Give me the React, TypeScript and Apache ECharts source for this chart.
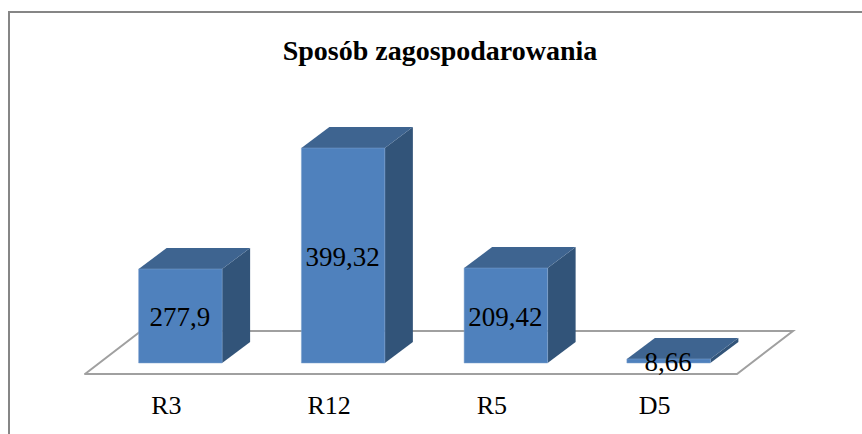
import React, { useEffect, useRef } from "react";
import * as echarts from "echarts";

const categories = ["R3", "R12", "R5", "D5"];
// Heights as drawn in the picture (the printed labels do not follow them).
const plottedValues = [174.6, 399.32, 176.4, 7.5];
const valueLabels = ["277,9", "399,32", "209,42", "8,66"];
const titleText = "Sposób zagospodarowania";

const FONT = '"Liberation Serif", "Times New Roman", serif';
const FRONT = "#4F81BD";
const TOP = "#3E6490";
const SIDE = "#325479";
const FLOOR = "#A0A0A0";
const DEPTH_X = 28;
const DEPTH_Y = 21;
const OFFSET_X = 14;
const OFFSET_Y = 11;

function renderBar(params: any, api: any) {
  const idx = api.value(0);
  const val = api.value(1);
  const top = api.coord([idx, val]);
  const base = api.coord([idx, 0]);
  const band = api.size([1, 0])[0];
  const w = band * 0.513;
  const x0 = top[0] + OFFSET_X - w / 2;
  const x1 = x0 + w;
  const y0 = top[1] - OFFSET_Y;
  const y1 = base[1] - OFFSET_Y;
  const dx = DEPTH_X;
  const dy = DEPTH_Y;
  return {
    type: "group",
    children: [
      {
        type: "polygon",
        shape: { points: [[x1, y0], [x1 + dx, y0 - dy], [x1 + dx, y1 - dy], [x1, y1]] },
        style: { fill: SIDE },
      },
      {
        type: "polygon",
        shape: { points: [[x0, y0], [x0 + dx, y0 - dy], [x1 + dx, y0 - dy], [x1, y0]] },
        style: { fill: TOP },
      },
      {
        type: "rect",
        shape: { x: x0, y: y0, width: w, height: y1 - y0 },
        style: { fill: FRONT, stroke: "#7FA3CF", lineWidth: 0.5 },
      },
      {
        type: "text",
        x: (x0 + x1) / 2 - 0.5,
        y: (y0 + y1) / 2 + 1,
        style: {
          text: valueLabels[idx],
          fill: "#000",
          font: `27px ${FONT}`,
          align: "center",
          verticalAlign: "middle",
        },
      },
    ],
  };
}

export default function App() {
  const ref = useRef<HTMLDivElement>(null);
  useEffect(() => {
    const chart = echarts.init(ref.current!, null, { renderer: "svg" });
    chart.setOption({
      animation: false,
      backgroundColor: "#fff",
      title: {
        text: titleText,
        left: 435,
        top: 31,
        textAlign: "center",
        textStyle: { fontFamily: FONT, fontWeight: "bold", fontSize: 28, color: "#000" },
      },
      grid: { left: 85, right: 126, top: 100, bottom: 60 },
      xAxis: {
        type: "category",
        data: categories,
        axisLine: { show: true, lineStyle: { color: FLOOR, width: 2 } },
        axisTick: { show: false },
        axisLabel: { fontFamily: FONT, fontSize: 26, color: "#000", margin: 18 },
      },
      yAxis: { type: "value", min: 0, max: 509, show: false },
      graphic: [
        {
          type: "polyline",
          shape: { points: [[9, 434], [9, 12], [862, 12]] },
          style: { fill: "none", stroke: "#868686", lineWidth: 2 },
        },
        {
          type: "polyline",
          shape: { points: [[85, 374], [141, 331], [793, 331], [737, 374], [730, 374]] },
          style: { fill: "none", stroke: FLOOR, lineWidth: 2 },
        },
      ],
      series: [
        {
          type: "custom",
          renderItem: renderBar,
          data: plottedValues.map((v, i) => [i, v]),
          encode: { x: 0, y: 1 },
          clip: false,
        },
      ],
    });
    return () => chart.dispose();
  }, []);
  return <div ref={ref} style={{ width: 862, height: 434, position: "absolute", left: 0, top: 0 }} />;
}
